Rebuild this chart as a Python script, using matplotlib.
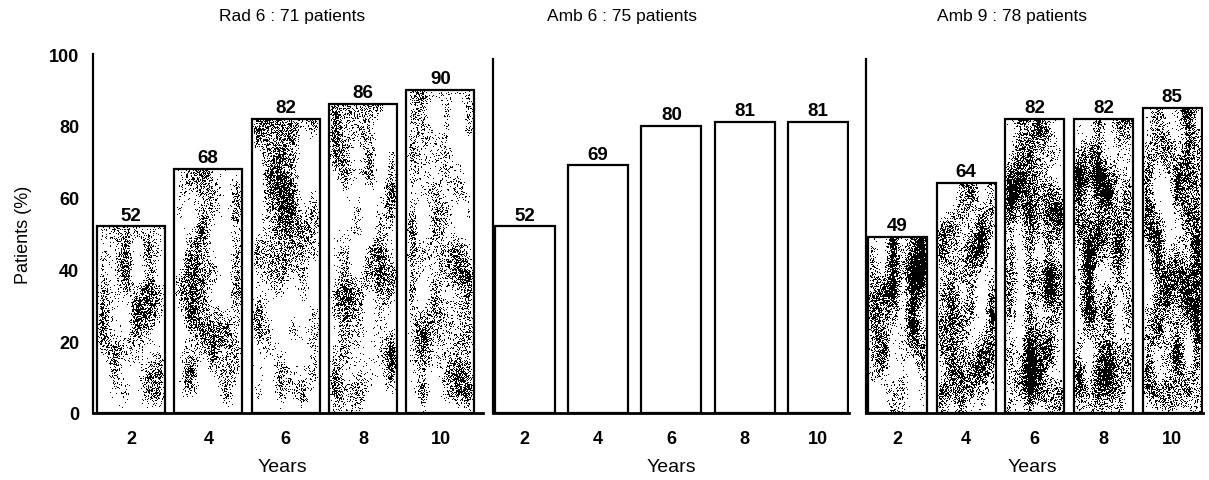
import numpy as np
import matplotlib
matplotlib.use("Agg")
import matplotlib.pyplot as plt

# data
years = [2, 4, 6, 8, 10]
rad6 = [52, 68, 82, 86, 90]
amb6 = [52, 69, 80, 81, 81]
amb9 = [49, 64, 82, 82, 85]
titles = ["Rad 6 : 71 patients", "Amb 6 : 75 patients", "Amb 9 : 78 patients"]

plt.rcParams['font.family'] = ['Liberation Sans', 'DejaVu Sans']

W, H = 1209, 481


def box_blur(a, k, axis):
    kern = np.ones(k) / k
    return np.apply_along_axis(lambda v: np.convolve(v, kern, mode='same'), axis, a)


def speckle(rng, density, h=360, w=72):
    # streaky scanned-halftone look for the filled bars
    coarse = rng.random((18, 6))
    field = np.repeat(np.repeat(coarse, h // 18, axis=0), w // 6, axis=1)
    field = box_blur(field, 41, 0)
    field = box_blur(field, 11, 1)
    fine = box_blur(rng.random((h, w)), 3, 0)
    prob = density + 1.1 * (field - field.mean())
    return (fine * 0.35 + rng.random((h, w)) * 0.65 < prob).astype(float)


fig = plt.figure(figsize=(W / 100, H / 100), dpi=100)

# panel rectangles in pixels: left, right
panels = [
    dict(px=(93, 483), xlim=(1.02, 11.1), bw=1.76, vals=rad6, tex=0.26, top=100),
    dict(px=(493, 849), xlim=(1.13, 10.85), bw=1.64, vals=amb6, tex=None, top=98.6),
    dict(px=(866, 1203), xlim=(1.08, 10.9), bw=1.72, vals=amb9, tex=0.40, top=98.6),
]
title_x = [292, 622, 1012]
years_x = [282, 671, 1032]

rng = np.random.default_rng(7)
ybot, ytop = 414, 55

for i, p in enumerate(panels):
    l, r = p['px']
    ax = fig.add_axes([l / W, (H - ybot) / H, (r - l) / W, (ybot - ytop) / H])
    bars = ax.bar(years, p['vals'], width=p['bw'], color='white',
                  edgecolor='black', linewidth=1.6, zorder=3)
    if p['tex'] is not None:
        for b in bars:
            b.set_facecolor('none')
            x0 = b.get_x()
            im = ax.imshow(speckle(rng, p['tex']), cmap='gray_r', vmin=0, vmax=1,
                           extent=[x0, x0 + b.get_width(), 0, 100], aspect='auto',
                           interpolation='nearest', zorder=2)
            im.set_clip_path(b)
    for b, v in zip(bars, p['vals']):
        ax.annotate(str(v), (b.get_x() + b.get_width() / 2, v), xytext=(0, 2),
                    textcoords='offset points', ha='center', va='bottom',
                    fontsize=13.5, fontweight='bold')
    ax.set_xlim(*p['xlim'])
    ax.set_ylim(0, 100)
    ax.set_xticks(years)
    ax.tick_params(axis='x', length=0, pad=12, labelsize=13)
    for t in ax.get_xticklabels():
        t.set_fontweight('bold')
    for s in ['top', 'right']:
        ax.spines[s].set_visible(False)
    ax.spines['bottom'].set_linewidth(2)
    ax.spines['left'].set_linewidth(1.6)
    ax.spines['left'].set_bounds(0, p['top'])
    if i == 0:
        ax.set_yticks([0, 20, 40, 60, 80, 100])
        ax.tick_params(axis='y', length=0, pad=10, labelsize=13)
        for t in ax.get_yticklabels():
            t.set_fontweight('bold')
        ax.set_ylabel("Patients (%)", fontsize=13, labelpad=12)
    else:
        ax.set_yticks([])
    fig.text(title_x[i] / W, 1 - 17 / H, titles[i], ha='center', va='center',
             fontsize=12.5)
    fig.text(years_x[i] / W, 1 - 468 / H, "Years", ha='center', va='center',
             fontsize=14)

fig.savefig("out.png", dpi=100)
